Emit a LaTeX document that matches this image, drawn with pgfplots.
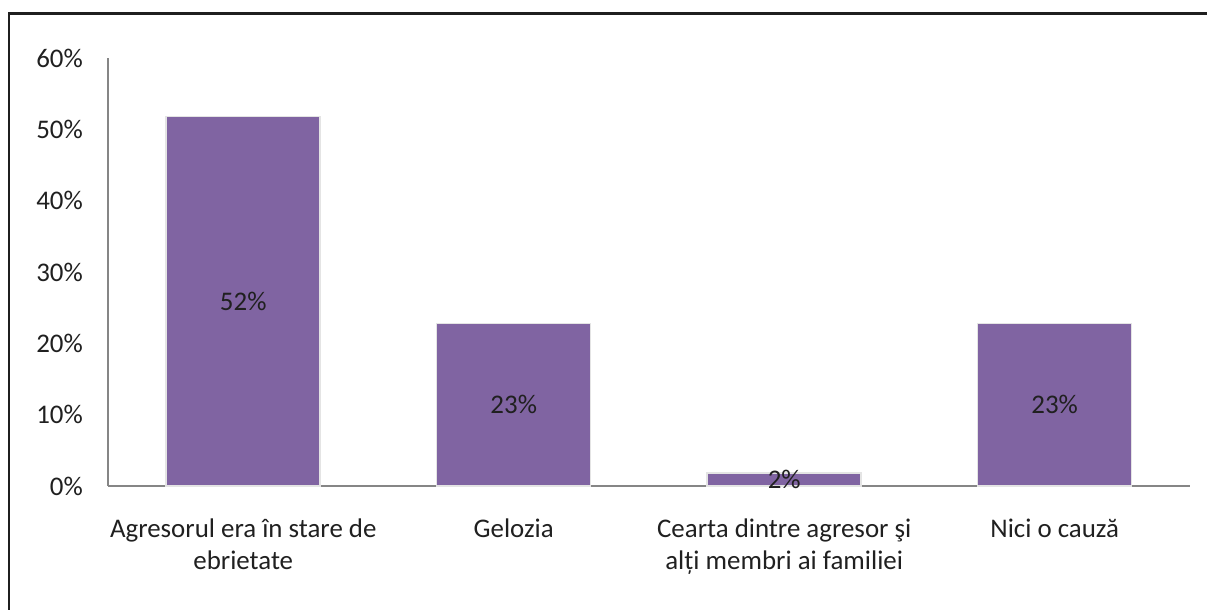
\documentclass[border=0pt]{standalone}
\usepackage{pgfplots}
\pgfplotsset{compat=1.18}
\usepackage{fontspec}
\setmainfont{Carlito}
\definecolor{barpurple}{HTML}{8064A2}
\definecolor{axgray}{HTML}{868686}
\definecolor{txt}{HTML}{202020}
\definecolor{glow}{HTML}{E4E4E4}
\begin{document}
\begin{tikzpicture}
\useasboundingbox (-108bp,-124bp) rectangle (1099bp,486bp);
\begin{axis}[
  at={(0,0)}, anchor=south west,
  scale only axis,
  width=1082bp, height=428bp,
  xmin=-0.5, xmax=3.5,
  ymin=0, ymax=60,
  axis x line*=bottom,
  axis y line*=left,
  axis line style={draw=axgray, line width=1.2bp},
  major tick length=0pt,
  xtick={0,1,2,3},
  xticklabels={{Agresorul era în stare de\\ebrietate},{Gelozia},{Cearta dintre agresor şi\\alți membri ai familiei},{Nici o cauză}},
  x tick label style={align=center, inner sep=0pt, yshift=-33bp, text=txt, font=\fontsize{27}{31.7}\selectfont},
  ytick={0,10,20,30,40,50,60},
  yticklabels={0\%,10\%,20\%,30\%,40\%,50\%,60\%},
  y tick label style={anchor=east, inner sep=0pt, xshift=-25bp, text=txt, font=\fontsize{27}{31.7}\selectfont},
  /pgf/number format/assume math mode=true,
  clip=false,
]
\addplot[ybar, bar width=154bp, fill=barpurple, draw=glow, line width=1.5bp]
  coordinates {(0,51.8) (1,22.8) (2,1.8) (3,22.8)};
\addplot[draw=none, mark=none, nodes near coords, point meta=explicit symbolic,
  nodes near coords style={anchor=center, inner sep=0pt, text=txt, font=\fontsize{27}{31.7}\selectfont}]
  coordinates {(0,25.9) [52\%] (1,11.4) [23\%] (2,0.9) [2\%] (3,11.4) [23\%]};
\end{axis}
\draw[line width=2.6bp, color=black!88] (-99bp,-130bp) -- (-99bp,472.5bp) -- (1110bp,472.5bp);
\end{tikzpicture}
\end{document}
